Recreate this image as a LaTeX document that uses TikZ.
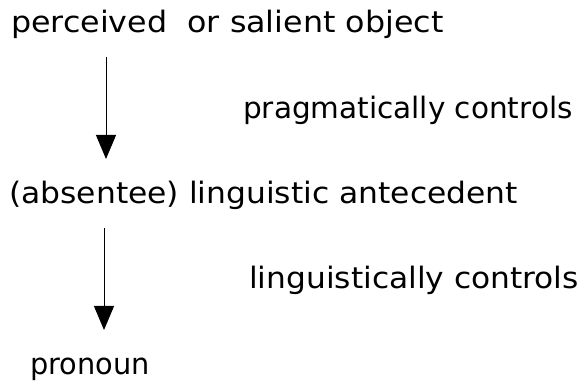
\documentclass[tikz,border=0pt]{standalone}
\usepackage{fontspec}
\setmainfont{DejaVu Sans}
\usetikzlibrary{arrows.meta}
\begin{document}
\begin{tikzpicture}[x=1pt,y=1pt,
  label text/.style={anchor=base west, inner sep=0pt, font=\fontsize{29.5}{34}\selectfont},
  control arrow/.style={line width=1pt, -{Triangle[width=20pt,length=24pt]}}]
\useasboundingbox (0,0) rectangle (587,388);
% the chain of terms, top to bottom
\node[label text] (object) at (11,355) {\scalebox{1.075}[1]{perceived\ \ or salient object}};
\node[label text] (antecedent) at (9,184) {\scalebox{1.063}[1]{(absentee) linguistic antecedent}};
\node[label text] (pronoun) at (30,13) {\scalebox{0.975}[1]{pronoun}};
% relation labels beside the arrows
\node[label text] (pragmatic) at (243,269) {pragmatically controls};
\node[label text] (linguistic) at (249,99) {\scalebox{1.06}[1]{linguistically controls}};
% arrow ends
\coordinate (a1s) at (106,331);
\coordinate (a1e) at (106,229);
\coordinate (a2s) at (104,160);
\coordinate (a2e) at (104,58);
\draw[control arrow] (a1s) -- (a1e);
\draw[control arrow] (a2s) -- (a2e);
\end{tikzpicture}
\end{document}
